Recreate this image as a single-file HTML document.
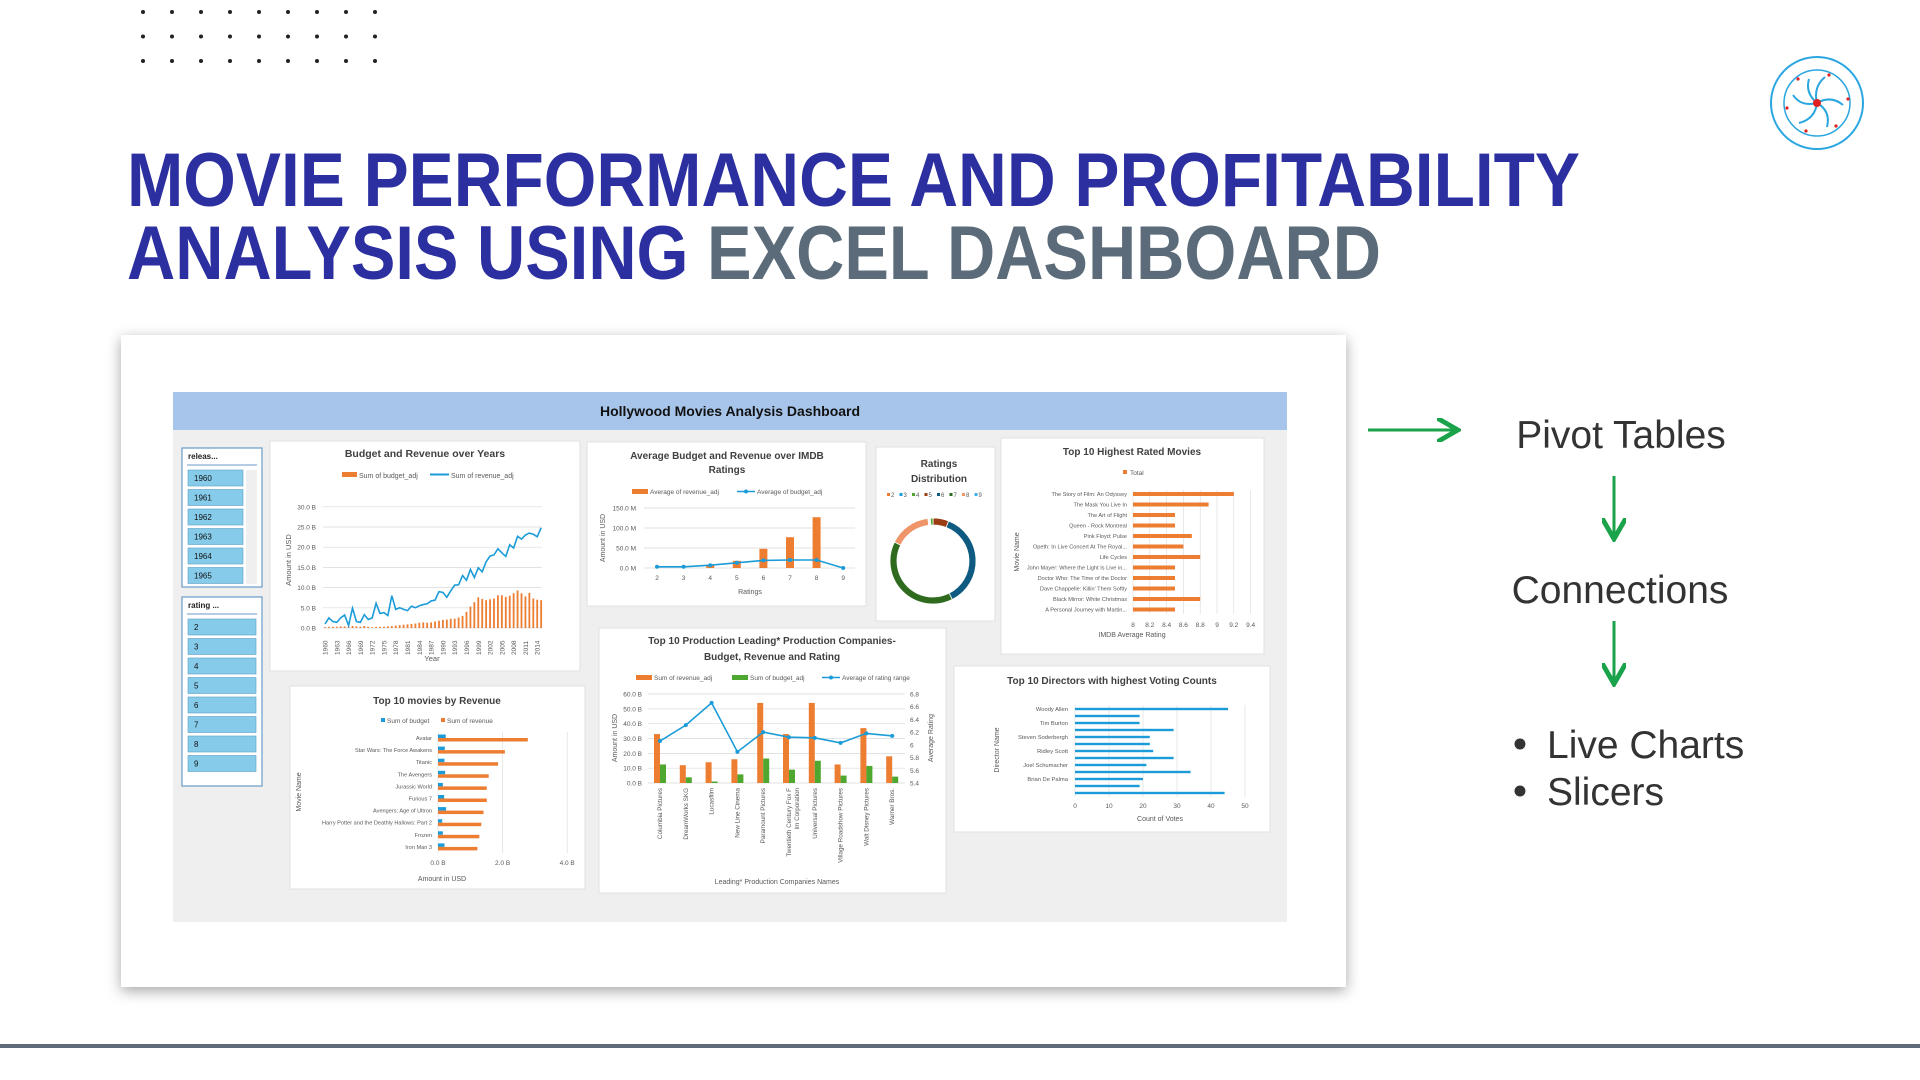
<!DOCTYPE html>
<html><head><meta charset="utf-8"><title>Movie Performance Dashboard</title>
<style>
html,body{margin:0;padding:0;background:#fff;width:1920px;height:1080px;overflow:hidden}
svg{display:block;font-family:"Liberation Sans",sans-serif}
.sm{font-family:"Liberation Sans Narrow","Liberation Sans",sans-serif}
</style></head>
<body>
<svg id="s" width="1920" height="1080" viewBox="0 0 1920 1080">
<defs>
<filter id="sh" x="-5%" y="-5%" width="110%" height="112%"><feDropShadow dx="0" dy="4" stdDeviation="7" flood-color="#000" flood-opacity="0.35"/></filter>
<marker id="ah" markerWidth="8" markerHeight="8" refX="6" refY="4" orient="auto"><path d="M0,0 L7,4 L0,8" fill="none" stroke="#1aa34a" stroke-width="1.6"/></marker>
</defs>
<g id="dots"></g>
<text x="127" y="206" font-size="76" font-weight="bold" fill="#2b2fa0" textLength="1453" lengthAdjust="spacingAndGlyphs">MOVIE PERFORMANCE AND PROFITABILITY</text>
<text x="127" y="279" font-size="76" font-weight="bold" textLength="1254" lengthAdjust="spacingAndGlyphs"><tspan fill="#2b2fa0">ANALYSIS USING </tspan><tspan fill="#5b6b79">EXCEL DASHBOARD</tspan></text>
<g>
<circle cx="1817" cy="103" r="46" fill="#fff" stroke="#2aa6e0" stroke-width="2"/>
<circle cx="1817" cy="103" r="33" fill="none" stroke="#2aa6e0" stroke-width="1.5"/>
<g fill="none" stroke="#2aa6e0" stroke-width="2"><path d="M1817,103 q-4,-16 8,-26"/><path d="M1817,103 q14,-8 26,2"/><path d="M1817,103 q14,8 10,24"/><path d="M1817,103 q-2,16 -18,20"/><path d="M1817,103 q-16,4 -24,-8"/><path d="M1817,103 q-12,-10 -8,-24"/></g>
<circle cx="1817" cy="103" r="4" fill="#e02020"/>
<g fill="#e02020"><circle cx="1829" cy="75" r="1.6"/><circle cx="1848" cy="99" r="1.6"/><circle cx="1836" cy="126" r="1.6"/><circle cx="1806" cy="131" r="1.6"/><circle cx="1787" cy="108" r="1.6"/><circle cx="1798" cy="79" r="1.6"/></g>
</g>
<rect x="121" y="335" width="1225" height="652" fill="#fff" filter="url(#sh)"/>
<rect x="173" y="392" width="1114" height="530" fill="#efefef"/>
<rect x="173" y="392" width="1114" height="38" fill="#a7c5ea"/>
<text x="730" y="416" font-size="14" font-weight="bold" text-anchor="middle" fill="#111" class="sm">Hollywood Movies Analysis Dashboard</text>
<g id="dash"></g>
<line x1="1368" y1="430" x2="1455" y2="430" stroke="#1aa34a" stroke-width="3" marker-end="url(#ah)"/>
<text x="1621" y="448" font-size="39" text-anchor="middle" fill="#333">Pivot Tables</text>
<line x1="1614" y1="476" x2="1614" y2="536" stroke="#1aa34a" stroke-width="3" marker-end="url(#ah)"/>
<text x="1620" y="603" font-size="39" text-anchor="middle" fill="#333">Connections</text>
<line x1="1614" y1="621" x2="1614" y2="681" stroke="#1aa34a" stroke-width="3" marker-end="url(#ah)"/>
<circle cx="1520" cy="744" r="5.5" fill="#333"/>
<text x="1547" y="758" font-size="39" fill="#333">Live Charts</text>
<circle cx="1520" cy="791" r="5.5" fill="#333"/>
<text x="1547" y="805" font-size="39" fill="#333">Slicers</text>
<rect x="0" y="1044" width="1920" height="4" fill="#5f6b78"/>
</svg>
<script>
// ===== Data =====
const years=[1960,1961,1962,1963,1964,1965,1966,1967,1968,1969,1970,1971,1972,1973,1974,1975,1976,1977,1978,1979,1980,1981,1982,1983,1984,1985,1986,1987,1988,1989,1990,1991,1992,1993,1994,1995,1996,1997,1998,1999,2000,2001,2002,2003,2004,2005,2006,2007,2008,2009,2010,2011,2012,2013,2014,2015];
const revenueByYear=[1.0,2.5,1.6,1.4,2.5,3.2,0.6,4.9,1.6,1.4,3.3,2.1,2.5,6.1,3.6,3.8,3.1,8.0,4.6,5.0,4.6,4.3,5.4,5.0,5.5,5.8,6.0,6.7,6.9,9.0,8.8,7.6,9.2,10.6,10.7,13.0,11.8,14.5,12.5,14.9,13.9,16.4,17.8,18.1,19.6,18.6,17.7,20.6,19.8,22.7,22.0,23.0,23.5,23.2,22.6,24.8];
const budgetByYear=[0.2,0.3,0.3,0.3,0.4,0.4,0.3,0.5,0.4,0.3,0.5,0.3,0.2,0.3,0.3,0.3,0.4,0.5,0.6,0.7,0.8,0.9,1.0,1.1,1.3,1.4,1.3,1.4,1.6,1.8,2.0,2.1,2.3,2.3,2.6,3.0,4.0,5.3,6.4,7.6,7.2,6.9,7.1,7.3,8.1,8.1,7.7,8.0,8.6,9.3,8.6,7.8,8.7,7.3,7.0,6.9];
const yTicksB=[0,5,10,15,20,25,30];
const ratingCats=[2,3,4,5,6,7,8,9];
const avgRevenue=[0,0,8,18,48,77,127,0];
const avgBudget=[3,3,7,13,19,20,20,0];
const avgTicks=[0,50,100,150];
const movies=["Avatar","Star Wars: The Force Awakens","Titanic","The Avengers","Jurassic World","Furious 7","Avengers: Age of Ultron","Harry Potter and the Deathly Hallows: Part 2","Frozen","Iron Man 3"];
const movieRevenue=[2.78,2.07,1.86,1.57,1.51,1.51,1.41,1.34,1.28,1.22];
const movieBudget=[0.24,0.21,0.20,0.22,0.15,0.19,0.25,0.13,0.15,0.20];
const movieTicks=[0,2,4];
const companies=["Columbia Pictures","DreamWorks SKG","Lucasfilm","New Line Cinema","Paramount Pictures","Twentieth Century Fox Film Corporation","Universal Pictures","Village Roadshow Pictures","Walt Disney Pictures","Warner Bros."];
const compRevenue=[33,12,14,16,54,33,54,12.5,37,18];
const compBudget=[12.5,3.8,1,5.8,16.5,9,15,5,11.5,4.3];
const compRating=[6.06,6.31,6.66,5.89,6.2,6.12,6.11,6.03,6.18,6.14];
const compTicks=[0,10,20,30,40,50,60];
const ratingTicks=[5.4,5.6,5.8,6,6.2,6.4,6.6,6.8];
const distLabels=["2","3","4","5","6","7","8","9"];
const distValues=[0.3,0.3,1.0,6.0,37,40,16,0.3];
const topRated=["The Story of Film: An Odyssey","The Mask You Live In","The Art of Flight","Queen - Rock Montreal","Pink Floyd: Pulse","Opeth: In Live Concert At The Royal...","Life Cycles","John Mayer: Where the Light Is Live in...","Doctor Who: The Time of the Doctor","Dave Chappelle: Killin' Them Softly","Black Mirror: White Christmas","A Personal Journey with Martin..."];
const topRatedValues=[9.2,8.9,8.5,8.5,8.7,8.6,8.8,8.5,8.5,8.5,8.8,8.5];
const topRatedTicks=[8,8.2,8.4,8.6,8.8,9,9.2,9.4];
const directorLabels=["Woody Allen","","Tim Burton","","Steven Soderbergh","","Ridley Scott","","Joel Schumacher","","Brian De Palma","",""];
const directorVotes=[45,19,19,29,22,22,23,29,21,34,20,19,44];
const voteTicks=[0,10,20,30,40,50];
const slicerYears=["1960","1961","1962","1963","1964","1965"];
const slicerRatings=["2","3","4","5","6","7","8","9"];

const NS='http://www.w3.org/2000/svg';
const svg=document.getElementById('s');
const dash=document.getElementById('dash');
const OR='#ed7d31',BL='#1b9cd8',GR='#4ea72e',GRID='#d9d9d9',TX='#595959';
function mk(tag,a,p){const e=document.createElementNS(NS,tag);for(const k in a)e.setAttribute(k,a[k]);(p||dash).appendChild(e);return e;}
function tx(x,y,str,size,opt,p){const o=Object.assign({x:x,y:y,'font-size':size,fill:TX,class:'sm'},opt||{});const e=mk('text',o,p);e.textContent=str;return e;}

// dots
const dg=document.getElementById('dots');
for(let r=0;r<3;r++)for(let c=0;c<9;c++){const d=mk('circle',{cx:143+c*29,cy:12+r*24.5,r:2,fill:'#222'},dg);

}

function panel(x,y,w,h,name){const r=mk('rect',{x:x,y:y,width:w,height:h,fill:'#fff',stroke:'#e0e0e0'});

}

// ===== Slicers =====
function slicer(x,y,h,title,items,itemW,name){
  const g=mk('g',{});
  
  
  mk('rect',{x:x,y:y,width:80,height:h,fill:'#fff',stroke:'#6a9bc9','stroke-width':1.2},g);
  tx(x+6,y+11,title,8,{'font-weight':'bold',fill:'#222'},g);
  mk('line',{x1:x+5,y1:y+17,x2:x+75,y2:y+17,stroke:'#6a9bc9'},g);
  items.forEach((it,i)=>{
    const b=mk('rect',{x:x+6,y:y+22+i*19.5,width:itemW,height:16,fill:'#86cbea',stroke:'#5a9fc0','stroke-width':0.6},g);
    
    
    tx(x+12,y+33+i*19.5,it,8,{fill:'#111'},g);
  });
}
slicer(182,448,139,'releas...',slicerYears,55,'release-year-slicer');
mk('rect',{x:246,y:470,width:11,height:114,fill:'#efefef'});
slicer(182,597,189,'rating ...',slicerRatings,68,'rating-slicer');

// ===== Budget and Revenue over Years =====
panel(270,441,310,230,'budget-revenue-years-panel');
tx(425,457,'Budget and Revenue over Years',10.5,{'font-weight':'bold','text-anchor':'middle',fill:'#404040'});
mk('rect',{x:342,y:472,width:15,height:5,fill:OR});tx(359,478,'Sum of budget_adj',7);
mk('line',{x1:430,y1:474.5,x2:449,y2:474.5,stroke:BL,'stroke-width':2});tx(451,478,'Sum of revenue_adj',7);
const xYr=v=>325+(v-1960)*3.93, yB=v=>628-v*4.04;
yTicksB.forEach(t=>{mk('line',{x1:323,x2:542,y1:yB(t),y2:yB(t),stroke:GRID,'stroke-width':0.7});tx(316,yB(t)+2.5,t.toFixed(1)+' B',6.5,{'text-anchor':'end'});});
years.forEach((yr,i)=>{
  const b=mk('rect',{x:xYr(yr)-0.9,y:yB(budgetByYear[i]),width:1.8,height:budgetByYear[i]*4.04,fill:OR});
  
  
  if((yr-1960)%3===0){tx(0,0,String(yr),6.5,{transform:`translate(${xYr(yr)+2.5},${655}) rotate(-90)`});}
});
const revLine=mk('polyline',{points:years.map((yr,i)=>xYr(yr)+','+yB(revenueByYear[i])).join(' '),fill:'none',stroke:BL,'stroke-width':1.6});


tx(0,0,'Amount in USD',7.5,{transform:'translate(291,560) rotate(-90)','text-anchor':'middle'});
tx(432,661,'Year',7.5,{'text-anchor':'middle'});

// ===== Average Budget and Revenue over IMDB ratings =====
panel(587,442,279,164,'avg-budget-revenue-panel');
tx(727,459,'Average Budget and Revenue over IMDB',10,{'font-weight':'bold','text-anchor':'middle',fill:'#404040'});
tx(727,473,'Ratings',10,{'font-weight':'bold','text-anchor':'middle',fill:'#404040'});
mk('rect',{x:632,y:489,width:16,height:5,fill:OR});tx(650,494,'Average of revenue_adj',6.5);
mk('line',{x1:737,y1:491.5,x2:755,y2:491.5,stroke:BL,'stroke-width':1.6});mk('circle',{cx:746,cy:491.5,r:2,fill:BL});tx(757,494,'Average of budget_adj',6.5);
const xR=i=>657+i*26.6, yM=v=>568-v*0.4;
avgTicks.forEach(t=>{mk('line',{x1:644,x2:855,y1:yM(t),y2:yM(t),stroke:GRID,'stroke-width':0.7});tx(636,yM(t)+2.5,t.toFixed(1)+' M',6.5,{'text-anchor':'end'});});
ratingCats.forEach((c,i)=>{
  const b=mk('rect',{x:xR(i)-4,y:yM(avgRevenue[i]),width:8,height:avgRevenue[i]*0.4,fill:OR});
  
  
  tx(xR(i),580,String(c),6.5,{'text-anchor':'middle'});
});
const abl=mk('polyline',{points:ratingCats.map((c,i)=>xR(i)+','+yM(avgBudget[i])).join(' '),fill:'none',stroke:BL,'stroke-width':1.6});


ratingCats.forEach((c,i)=>{const p=mk('circle',{cx:xR(i),cy:yM(avgBudget[i]),r:2,fill:BL});

});
tx(750,594,'Ratings',7,{'text-anchor':'middle'});
tx(0,0,'Amount in USD',7,{transform:'translate(605,538) rotate(-90)','text-anchor':'middle'});

// ===== Ratings Distribution =====
panel(876,447,119,174,'ratings-distribution-panel');
tx(939,467,'Ratings',10,{'font-weight':'bold','text-anchor':'middle',fill:'#404040'});
tx(939,482,'Distribution',10,{'font-weight':'bold','text-anchor':'middle',fill:'#404040'});
const distColors=['#ed7d31','#1b9cd8','#4ea72e','#9a3d12','#0f5a80','#2e6b1f','#f0956a','#40b0e8'];
distLabels.forEach((l,i)=>{mk('rect',{x:887+i*12.5,y:493,width:3,height:3,fill:distColors[i]});tx(891+i*12.5,497,l,6);});
const dcx=933,dcy=561,ro=43,ri=36;const tot=distValues.reduce((a,b)=>a+b,0);let ang=0;
const order=[2,1,0,3,4,5,6,7];
[3,4,5,6,7,0,1,2].forEach(i=>{
  const a0=ang,a1=ang+distValues[i]/tot*2*Math.PI;ang=a1;
  const P=(r,a)=>[dcx+r*Math.sin(a),dcy-r*Math.cos(a)];
  const lg=(a1-a0)>Math.PI?1:0;const [x0,y0]=P(ro,a0),[x1,y1]=P(ro,a1),[x2,y2]=P(ri,a1),[x3,y3]=P(ri,a0);
  const s=mk('path',{d:`M${x0},${y0} A${ro},${ro} 0 ${lg} 1 ${x1},${y1} L${x2},${y2} A${ri},${ri} 0 ${lg} 0 ${x3},${y3} Z`,fill:distColors[i],stroke:'#fff','stroke-width':0.8});
  
  
});

// ===== Top 10 Highest Rated =====
panel(1001,438,263,216,'top-rated-movies-panel');
tx(1132,455,'Top 10 Highest Rated Movies',10,{'font-weight':'bold','text-anchor':'middle',fill:'#404040'});
mk('rect',{x:1123,y:470,width:4,height:4,fill:OR});tx(1130,475,'Total',6.5);
const xT=v=>1133+(v-8)*84, yT=i=>494+i*10.5;
topRatedTicks.forEach(t=>{mk('line',{x1:xT(t),x2:xT(t),y1:490,y2:614,stroke:GRID,'stroke-width':0.6});tx(xT(t),627,String(t),6.5,{'text-anchor':'middle'});});
topRated.forEach((m,i)=>{
  const b=mk('rect',{x:xT(8),y:yT(i)-2,width:xT(topRatedValues[i])-xT(8),height:4,fill:OR});
  
  
  tx(1127,yT(i)+2,m,5.6,{'text-anchor':'end'});
});
tx(1132,637,'IMDB Average Rating',7,{'text-anchor':'middle'});
tx(0,0,'Movie Name',7,{transform:'translate(1019,552) rotate(-90)','text-anchor':'middle'});

// ===== Top 10 movies by Revenue =====
panel(290,686,295,203,'top-movies-revenue-panel');
tx(437,704,'Top 10 movies by Revenue',10,{'font-weight':'bold','text-anchor':'middle',fill:'#404040'});
mk('rect',{x:381,y:718,width:4,height:4,fill:BL});tx(387,723,'Sum of budget',6.5);
mk('rect',{x:441,y:718,width:4,height:4,fill:OR});tx(447,723,'Sum of revenue',6.5);
const xMv=v=>438+v*32.3, yMv=i=>737+i*12.1;
movieTicks.forEach(t=>{mk('line',{x1:xMv(t),x2:xMv(t),y1:732,y2:853,stroke:GRID,'stroke-width':0.6});tx(xMv(t),865,t.toFixed(1)+' B',6.5,{'text-anchor':'middle'});});
movies.forEach((m,i)=>{
  const b1=mk('rect',{x:xMv(0),y:yMv(i)-2.5,width:movieBudget[i]*32.3,height:3.5,fill:BL});
  
  
  const b2=mk('rect',{x:xMv(0),y:yMv(i)+1,width:movieRevenue[i]*32.3,height:3.5,fill:OR});
  
  
  tx(432,yMv(i)+3,m,5.6,{'text-anchor':'end'});
});
tx(442,881,'Amount in USD',7,{'text-anchor':'middle'});
tx(0,0,'Movie Name',7,{transform:'translate(301,792) rotate(-90)','text-anchor':'middle'});

// ===== Top 10 Production Companies =====
panel(599,628,347,265,'production-companies-panel');
tx(772,644,'Top 10 Production Leading* Production Companies-',10,{'font-weight':'bold','text-anchor':'middle',fill:'#404040'});
tx(772,660,'Budget, Revenue and Rating',10,{'font-weight':'bold','text-anchor':'middle',fill:'#404040'});
mk('rect',{x:636,y:675,width:16,height:5,fill:OR});tx(654,680,'Sum of revenue_adj',6.5);
mk('rect',{x:732,y:675,width:16,height:5,fill:GR});tx(750,680,'Sum of budget_adj',6.5);
mk('line',{x1:822,y1:677.5,x2:840,y2:677.5,stroke:BL,'stroke-width':1.6});mk('circle',{cx:831,cy:677.5,r:2,fill:BL});tx(842,680,'Average of rating range',6.5);
const xC=i=>660+i*25.8, yC=v=>783-v*1.483, yRt=v=>783-(v-5.4)*63.6;
compTicks.forEach(t=>{mk('line',{x1:648,x2:905,y1:yC(t),y2:yC(t),stroke:GRID,'stroke-width':0.7});tx(642,yC(t)+2.5,t.toFixed(1)+' B',6.5,{'text-anchor':'end'});});
ratingTicks.forEach(t=>{tx(910,yRt(t)+2.5,String(t),6.5);});
companies.forEach((c,i)=>{
  const b1=mk('rect',{x:xC(i)-6,y:yC(compRevenue[i]),width:6,height:compRevenue[i]*1.483,fill:OR});
  
  
  const b2=mk('rect',{x:xC(i),y:yC(compBudget[i]),width:6,height:compBudget[i]*1.483,fill:GR});
  
  
  const parts=c.length>26?[c.slice(0,23),c.slice(24)]:[c];
  parts.forEach((p,k)=>tx(0,0,p,6.3,{transform:`translate(${xC(i)+2+k*8},788) rotate(-90)`,'text-anchor':'end'}));
});
const crl=mk('polyline',{points:companies.map((c,i)=>xC(i)+','+yRt(compRating[i])).join(' '),fill:'none',stroke:BL,'stroke-width':1.6});


companies.forEach((c,i)=>{const p=mk('circle',{cx:xC(i),cy:yRt(compRating[i]),r:2,fill:BL});

});
tx(777,884,'Leading* Production Companies Names',7,{'text-anchor':'middle'});
tx(0,0,'Amount in USD',7,{transform:'translate(617,738) rotate(-90)','text-anchor':'middle'});
tx(0,0,'Average Rating',7,{transform:'translate(933,738) rotate(-90)','text-anchor':'middle'});

// ===== Top 10 Directors =====
panel(954,666,316,166,'directors-votes-panel');
tx(1112,684,'Top 10 Directors with highest Voting Counts',10,{'font-weight':'bold','text-anchor':'middle',fill:'#404040'});
const xD=v=>1075+v*3.4, yD=i=>709+i*7;
voteTicks.forEach(t=>{mk('line',{x1:xD(t),x2:xD(t),y1:705,y2:797,stroke:GRID,'stroke-width':0.6});tx(xD(t),808,String(t),6.5,{'text-anchor':'middle'});});
directorVotes.forEach((v,i)=>{
  const b=mk('rect',{x:xD(0),y:yD(i)-1.2,width:v*3.4,height:2.4,fill:BL});
  
  
  if(directorLabels[i])tx(1068,yD(i)+2,directorLabels[i],5.8,{'text-anchor':'end'});
});
tx(1160,821,'Count of Votes',7,{'text-anchor':'middle'});
tx(0,0,'Director Name',7,{transform:'translate(999,750) rotate(-90)','text-anchor':'middle'});
</script>
</body></html>
